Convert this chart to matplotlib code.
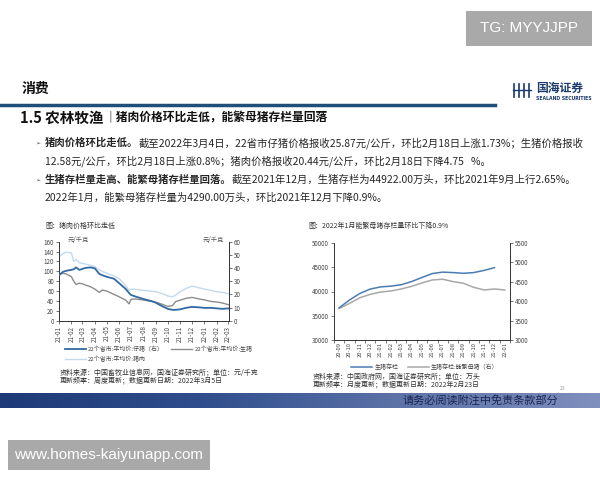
import numpy as np
import pandas as pd
import matplotlib
matplotlib.use('Agg')
import matplotlib.pyplot as plt
from matplotlib.colors import LinearSegmentedColormap
from matplotlib.patches import Rectangle
from matplotlib.lines import Line2D

plt.rcParams['font.family'] = ['Noto Sans CJK SC', 'DejaVu Sans']

# left chart: 22 province average prices (yuan/kg)
price_dates = ['2021-01-01', '2021-01-11', '2021-01-19', '2021-02-01', '2021-02-07', '2021-02-13',
               '2021-02-21', '2021-03-01', '2021-03-09', '2021-03-21', '2021-04-01', '2021-04-12',
               '2021-04-20', '2021-05-01', '2021-05-19', '2021-06-01', '2021-06-18', '2021-06-26',
               '2021-07-01', '2021-07-12', '2021-08-01', '2021-08-24', '2021-09-01', '2021-09-18',
               '2021-10-01', '2021-10-13', '2021-10-21', '2021-11-01', '2021-11-16', '2021-12-01',
               '2021-12-19', '2022-01-01', '2022-01-18', '2022-02-01', '2022-02-15', '2022-03-04']
piglet = [92, 99, 101, 103, 104, 108, 103, 105, 107, 108, 106, 95, 92, 89, 85, 76, 64, 56,
          52, 49, 44, 39, 36.5, 29, 24, 22, 22, 23, 26, 28, 27, 26, 26, 25, 24, 25]
hog = [35.2, 36, 35.5, 33.5, 30, 27.5, 28.5, 28, 27, 25.8, 24, 21.5, 23.3, 22.5, 20, 18.2, 15.5, 12.8,
       16.3, 16.5, 15.7, 14.5, 14, 12.4, 10.8, 11.5, 14.5, 15.5, 17, 17.7, 16.5, 15.8, 14.6, 14.2, 13.5, 12]
pork = [48.6, 51, 52, 51.5, 45, 46.5, 44, 43.5, 43, 42, 41, 38.5, 37.5, 36, 34, 32, 26.5, 23,
        24, 23.8, 23, 22.3, 22, 20.5, 18.8, 18.2, 19.5, 22, 24.5, 26.3, 25, 24, 23, 22, 21.5, 20.4]
price_ticks = ['21-01', '21-02', '21-03', '21-04', '21-05', '21-06', '21-07', '21-08',
               '21-09', '21-10', '21-11', '21-12', '22-01', '22-02', '22-03']

# right chart: hog and sow stock (10k head)
stock_months = ['20-09', '20-10', '20-11', '20-12', '21-01', '21-02', '21-03', '21-04', '21-05',
                '21-06', '21-07', '21-08', '21-09', '21-10', '21-11', '21-12', '22-01']
hog_stock = [36650, 38250, 39600, 40500, 40950, 41100, 41400, 42050, 42900,
             43700, 44000, 43900, 43750, 43900, 44350, 44922, np.nan]
sow_stock = [3813, 3943, 4090, 4176, 4237, 4263, 4315, 4384, 4471,
             4548, 4566, 4505, 4462, 4358, 4289, 4315, 4290]

W, H = 600, 480


def fx(x):
    return x / W


def fy(y):
    return 1 - y / H


fig = plt.figure(figsize=(6, 4.8), dpi=100)
fig.patch.set_facecolor('white')
renderer = fig.canvas.get_renderer()

# watermark boxes
fig.add_artist(Rectangle((fx(466), fy(46)), 126 / W, 35 / H, transform=fig.transFigure,
                         facecolor='#a9a9a9', edgecolor='none'))
fig.text(fx(529), fy(28), 'TG: MYYJJPP', color='white', fontsize=11, ha='center', va='center',
         family='Liberation Sans')
fig.add_artist(Rectangle((fx(8), fy(470)), 202 / W, 30 / H, transform=fig.transFigure,
                         facecolor='#a9a9a9', edgecolor='none'))
fig.text(fx(109), fy(455), 'www.homes-kaiyunapp.com', color='white', fontsize=11, ha='center',
         va='center', family='Liberation Sans')

# header
fig.text(fx(22), fy(89), '消费', fontsize=10, weight='bold', va='center', color='#111111')
fig.add_artist(Line2D([0, fx(495)], [fy(105), fy(105)], color='#1f4e79', lw=2.5))
fig.text(fx(20), fy(118), '1.5 农林牧渔', fontsize=10.5, weight='bold', va='center', color='#111111')
fig.text(fx(104), fy(118), '｜猪肉价格环比走低，能繁母猪存栏量回落', fontsize=8.5, weight='bold',
         va='center', color='#111111')

# logo
navy = '#1b3a6b'
for i in range(4):
    fig.add_artist(Line2D([fx(514 + i * 5), fx(514 + i * 5)], [fy(84), fy(97)], color=navy, lw=1.2))
fig.add_artist(Line2D([fx(513), fx(531)], [fy(90), fy(90)], color=navy, lw=1.0))
fig.text(fx(536), fy(88), '国海证券', fontsize=8.5, weight='bold', va='center', color=navy)
fig.text(fx(536), fy(98), 'SEALAND SECURITIES', fontsize=3.3, weight='bold', va='center',
         color=navy, family='DejaVu Sans')


def rich(x, y, parts, size=7.45):
    for s, bold in parts:
        t = fig.text(fx(x), fy(y), s, fontsize=size, weight='bold' if bold else 'normal',
                     va='center', color='#262626')
        x += t.get_window_extent(renderer).width


for yy in (143, 180):
    fig.text(fx(35), fy(yy), '➢', fontsize=4.5, va='center', color='#555555',
             family=['DejaVu Sans'])
rich(45, 143, [('猪肉价格环比走低。', True),
               ('截至2022年3月4日，22省市仔猪价格报收25.87元/公斤，环比2月18日上涨1.73%；生猪价格报收', False)])
rich(45, 161, [('12.58元/公斤，环比2月18日上涨0.8%；猪肉价格报收20.44元/公斤，环比2月18日下降4.75   %。', False)])
rich(45, 180, [('生猪存栏量走高、能繁母猪存栏量回落。', True),
               ('截至2021年12月，生猪存栏为44922.00万头，环比2021年9月上行2.65%。', False)])
rich(45, 198, [('2022年1月，能繁母猪存栏量为4290.00万头，环比2021年12月下降0.9%。', False)])

fig.text(fx(45), fy(226), '图：猪肉价格环比走低', fontsize=5, va='center', color='#333333')
fig.text(fx(308), fy(226), '图：2022年1月能繁母猪存栏量环比下降0.9%', fontsize=5, va='center', color='#333333')


def style(ax):
    ax.tick_params(labelsize=4.5, length=2, width=0.5, colors='#444444', pad=1.5)
    for s in ax.spines.values():
        s.set_linewidth(0.6)
        s.set_color('#333333')
    ax.spines['top'].set_visible(False)


# left chart
dates = pd.to_datetime(price_dates)
axL = fig.add_axes([fx(59), fy(320.7), 170 / W, 79 / H])
axR = axL.twinx()
axL.plot(dates, piglet, color='#3169a3', lw=1.3, zorder=3)
axR.plot(dates, hog, color='#8c8c8c', lw=1.0)
axR.plot(dates, pork, color='#c3d9ee', lw=1.0)
axL.set_zorder(axR.get_zorder() + 1)
axL.patch.set_visible(False)
axL.set_ylim(0, 160)
axL.set_yticks(range(0, 161, 20))
axR.set_ylim(0, 60)
axR.set_yticks(range(0, 61, 10))
axL.set_xlim(dates[0], dates[-1])
axL.set_xticks(pd.date_range('2021-01-01', '2022-03-01', freq='MS'))
axL.set_xticklabels(price_ticks, rotation=90)
style(axL)
style(axR)
fig.text(fx(68), fy(240), '元/千克', fontsize=4.5, va='center', color='#555555')
fig.text(fx(203), fy(240), '元/千克', fontsize=4.5, va='center', color='#555555')
hl = [Line2D([], [], color='#3169a3', lw=1.3), Line2D([], [], color='#c3d9ee', lw=1.0),
      Line2D([], [], color='#8c8c8c', lw=1.0)]
fig.legend(hl, ['22个省市:平均价:仔猪（右）', '22个省市:平均价:猪肉', '22个省市:平均价:生猪'],
           ncol=2, loc='upper left', bbox_to_anchor=(fx(62), fy(343)), frameon=False,
           fontsize=4.3, handlelength=3.5, columnspacing=1.2, labelspacing=0.6,
           borderpad=0, handletextpad=0.4, labelcolor='#444444')
fig.text(fx(60), fy(372), '资料来源：中国畜牧业信息网，国海证券研究所；单位：元/千克', fontsize=5,
         va='center', color='#333333')
fig.text(fx(60), fy(380), '更新频率：周度更新；数据更新日期：2022年3月5日', fontsize=5,
         va='center', color='#333333')

# right chart
x = np.arange(len(stock_months))
axS = fig.add_axes([fx(334), fy(340), 176 / W, 97 / H])
axT = axS.twinx()
axS.plot(x, hog_stock, color='#4a7cb2', lw=1.1, zorder=3)
axT.plot(x, sow_stock, color='#a8a8a8', lw=1.1)
axS.set_zorder(axT.get_zorder() + 1)
axS.patch.set_visible(False)
axS.set_xlim(-0.5, len(x) - 0.5)
axS.set_ylim(30000, 50000)
axS.set_yticks(range(30000, 50001, 5000))
axT.set_ylim(3000, 5500)
axT.set_yticks(range(3000, 5501, 500))
axS.set_xticks(x)
axS.set_xticklabels(stock_months, rotation=90)
axS.set_xticks(np.arange(len(x) + 1) - 0.5, minor=True)
style(axS)
style(axT)
axS.tick_params(axis='x', which='major', length=0, pad=1.5, labelsize=4.2)
axS.tick_params(axis='x', which='minor', length=2, width=0.5, colors='#444444')
hr = [Line2D([], [], color='#4a7cb2', lw=1.1), Line2D([], [], color='#a8a8a8', lw=1.1)]
fig.legend(hr, ['生猪存栏', '生猪存栏:能繁母猪（右）'], ncol=2, loc='center',
           bbox_to_anchor=(fx(425), fy(367)), frameon=False, fontsize=4.3, handlelength=3.5,
           columnspacing=1.5, borderpad=0, handletextpad=0.4, labelcolor='#444444')
fig.text(fx(313), fy(376), '资料来源：中国政府网，国海证券研究所；单位：万头', fontsize=5,
         va='center', color='#333333')
fig.text(fx(313), fy(384), '更新频率：月度更新；数据更新日期：2022年2月23日', fontsize=5,
         va='center', color='#333333')

# footer bar
axB = fig.add_axes([0, fy(408), 1, 15 / H])
cmap = LinearSegmentedColormap.from_list('bar', ['#1e3a78', '#2f4d8c', '#5d73a8', '#7f8fbe'])
axB.imshow(np.linspace(0, 1, 256)[None, :], aspect='auto', cmap=cmap, extent=(0, 1, 0, 1))
axB.set_axis_off()
fig.text(fx(480), fy(400.5), '请务必阅读附注中免责条款部分', fontsize=8, ha='center', va='center',
         color='#1a2550')
fig.text(fx(563), fy(389), '23', fontsize=3.5, ha='center', va='center', color='#999999')

fig.savefig('out.png', dpi=100)
